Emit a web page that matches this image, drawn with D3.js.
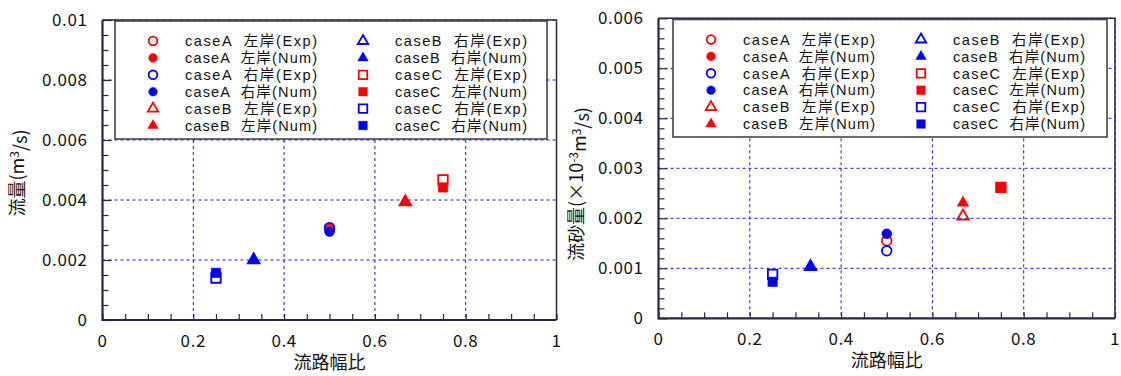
<!DOCTYPE html>
<html>
<head>
<meta charset="utf-8">
<script src="https://cdn.jsdelivr.net/npm/d3@7"></script>
<style>
  body { margin: 0; background: #fff; }
  text { font-family: "Noto Sans CJK JP", "Noto Sans", sans-serif; fill: #111; }
  text.legtext { font-family: "Liberation Sans", "Noto Sans CJK JP", sans-serif; white-space: pre; }
</style>
</head>
<body>
<script>
// series labels, in legend / drawing order
var seriesNames = [
    "caseA 左岸(Exp)", "caseA 左岸(Num)", "caseA 右岸(Exp)", "caseA 右岸(Num)",
    "caseB 左岸(Exp)", "caseB 左岸(Num)", "caseB 右岸(Exp)", "caseB 右岸(Num)",
    "caseC 左岸(Exp)", "caseC 左岸(Num)", "caseC 右岸(Exp)", "caseC 右岸(Num)"
];
var seriesColors = ["red", "red", "blue", "blue", "red", "red", "blue", "blue", "red", "red", "blue", "blue"];
var seriesShapes = ["circle", "circle", "circle", "circle", "triangle", "triangle", "triangle", "triangle", "square", "square", "square", "square"];
var seriesFilled = [false, true, false, true, false, true, false, true, false, true, false, true];

// 流路幅比 of each series
var widthRatio = [0.5, 0.5, 0.5, 0.5, 0.667, 0.667, 0.333, 0.333, 0.75, 0.75, 0.25, 0.25];
// 流量 (m3/s)
var flowValues = [0.00302, 0.00298, 0.00308, 0.00294, 0.00393, 0.00393, 0.0020, 0.0020, 0.00467, 0.00442, 0.0014, 0.00157];
// 流砂量
var sedimentValues = [0.00155, 0.00169, 0.00135, 0.00169, 0.00204, 0.00231, 0.00103, 0.00103, 0.00262, 0.00262, 0.00088, 0.00073];

// tick labels
var xTicks = [0, 0.2, 0.4, 0.6, 0.8, 1];
var xTickLabels = ["0", "0.2", "0.4", "0.6", "0.8", "1"];
var flowTicks = [0, 0.002, 0.004, 0.006, 0.008, 0.01];
var flowTickLabels = ["0", "0.002", "0.004", "0.006", "0.008", "0.01"];
var sedTicks = [0, 0.001, 0.002, 0.003, 0.004, 0.005, 0.006];
var sedTickLabels = ["0", "0.001", "0.002", "0.003", "0.004", "0.005", "0.006"];

var svg = d3.select("body").append("svg")
    .attr("width", 1121)
    .attr("height", 376);

var gridColor = "#1a1ae0";
var axisColor = "#26264a";

function marker(shape, legend){
    var s = legend ? 0.9 : 1;
    if (shape == "circle") return d3.symbol(d3.symbolCircle, 72 * s * s)();
    if (shape == "square") return d3.symbol(d3.symbolSquare, 90 * s * s)();
    return d3.symbol(d3.symbolTriangle, 58 * s * s)();
}

function drawMarks(g, xs, ys, values, legend){
    g.selectAll("path.mark")
        .data(values)
        .enter()
        .append("path")
        .attr("class", "mark")
        .attr("transform", function(d, i){ return "translate(" + xs(i) + "," + ys(d, i) + ")"; })
        .attr("d", function(d, i){ return marker(seriesShapes[i], legend); })
        .attr("fill", function(d, i){ return seriesFilled[i] ? seriesColors[i] : "none"; })
        .attr("stroke", function(d, i){ return seriesColors[i]; })
        .attr("stroke-width", function(d, i){ return seriesFilled[i] ? 0.5 : 1.8; });
}

function drawChart(cfg){
    var g = svg.append("g");
    var x = d3.scaleLinear().domain([0, 1]).range([cfg.left, cfg.right]);
    var y = d3.scaleLinear().domain([0, cfg.yMax]).range([cfg.bottom, cfg.top]);

    // dashed grid
    g.selectAll(".vgrid")
        .data(xTicks.slice(1))
        .enter().append("line")
        .attr("x1", function(d){ return x(d); })
        .attr("x2", function(d){ return x(d); })
        .attr("y1", cfg.top).attr("y2", cfg.bottom)
        .attr("stroke", gridColor).attr("stroke-width", 1)
        .attr("stroke-dasharray", "3,3");
    g.selectAll(".hgrid")
        .data(cfg.yTicks.slice(1))
        .enter().append("line")
        .attr("y1", function(d){ return y(d); })
        .attr("y2", function(d){ return y(d); })
        .attr("x1", cfg.left).attr("x2", cfg.right)
        .attr("stroke", gridColor).attr("stroke-width", 1)
        .attr("stroke-dasharray", "3,3");

    // inner ticks
    var yAxis = d3.axisRight(y)
        .tickValues(d3.range(0, cfg.yMax + 1e-9, cfg.yMinor))
        .tickSize(6)
        .tickFormat("");
    var ya = g.append("g").attr("transform", "translate(" + cfg.left + ",0)").call(yAxis);
    ya.selectAll("line").attr("stroke", axisColor).attr("stroke-width", 1.2)
        .attr("x2", function(d){ return Math.abs(d / cfg.yMajor - Math.round(d / cfg.yMajor)) < 1e-6 ? 9 : 6; });
    ya.select(".domain").remove();

    var xAxis = d3.axisTop(x)
        .tickValues(d3.range(0, 1.0001, 0.05))
        .tickSize(6)
        .tickFormat("");
    var xa = g.append("g").attr("transform", "translate(0," + cfg.bottom + ")").call(xAxis);
    xa.selectAll("line").attr("stroke", axisColor).attr("stroke-width", 1.2);
    xa.select(".domain").remove();

    // frame
    g.append("path")
        .attr("d", "M" + cfg.left + "," + cfg.top + "H" + cfg.right + "V" + cfg.bottom)
        .attr("fill", "none").attr("stroke", axisColor).attr("stroke-width", 1.5);
    g.append("path")
        .attr("d", "M" + cfg.left + "," + cfg.top + "V" + cfg.bottom + "H" + cfg.right)
        .attr("fill", "none").attr("stroke", axisColor).attr("stroke-width", 2.2);

    // tick labels
    g.selectAll(".ylab")
        .data(cfg.yTicks)
        .enter().append("text")
        .attr("x", cfg.left - 15)
        .attr("y", function(d){ return y(d); })
        .attr("dy", "0.36em")
        .attr("text-anchor", "end")
        .style("font-size", "17px")
        .style("letter-spacing", "0.6px")
        .text(function(d, i){ return cfg.yTickLabels[i]; });
    g.selectAll(".xlab")
        .data(xTicks)
        .enter().append("text")
        .attr("x", function(d){ return x(d); })
        .attr("y", cfg.bottom + 27)
        .attr("text-anchor", "middle")
        .style("font-size", "17px")
        .style("letter-spacing", "0.6px")
        .text(function(d, i){ return xTickLabels[i]; });

    // axis titles
    g.append("text")
        .attr("x", (cfg.left + cfg.right) / 2)
        .attr("y", cfg.bottom + 49)
        .attr("text-anchor", "middle")
        .style("font-size", "18px")
        .text("流路幅比");
    var yt = g.append("text")
        .attr("transform", "translate(" + cfg.yTitleX + "," + cfg.yTitleY + ") rotate(-90)")
        .attr("text-anchor", "middle")
        .attr("dy", "0.35em")
        .style("font-size", "18px");
    cfg.yTitle.forEach(function(p){
        yt.append("tspan")
            .attr("dy", p.sup ? "-0.45em" : (p.after ? "0.45em" : null))
            .style("font-size", p.sup ? "12px" : null)
            .text(p.t);
    });

    // data points
    drawMarks(g,
        function(i){ return x(widthRatio[i]); },
        function(d){ return y(d); },
        cfg.values, false);

    // legend
    var lg = g.append("g");
    lg.append("rect")
        .attr("x", cfg.legX).attr("y", cfg.legY)
        .attr("width", cfg.legW).attr("height", cfg.legH)
        .attr("fill", "white").attr("stroke", "#444").attr("stroke-width", 1.6);
    var rowY = function(i){ return cfg.legY + 20 + (i % 6) * 16.9; };
    var colX = function(i){ return cfg.legX + (i < 6 ? 38 : 248); };
    drawMarks(lg, colX, function(d, i){ return rowY(i); }, seriesNames, true);
    lg.selectAll(".legtext")
        .data(seriesNames)
        .enter().append("text")
        .attr("class", "legtext")
        .attr("x", function(d, i){ return colX(i) + 32; })
        .attr("y", function(d, i){ return rowY(i); })
        .attr("dy", "0.36em")
        .attr("textLength", 132)
        .attr("lengthAdjust", "spacing")
        .style("font-size", "14.5px")
        .text(function(d){ return d.replace(" ", "  "); });
}

// left: 流量
drawChart({
    left: 102.5, right: 556.5, top: 20, bottom: 320,
    yMax: 0.01, yMinor: 0.0005, yMajor: 0.002,
    yTicks: flowTicks, yTickLabels: flowTickLabels,
    values: flowValues,
    yTitleX: 18, yTitleY: 173,
    yTitle: [{t: "流量(m"}, {t: "3", sup: true}, {t: "/s)", after: true}],
    legX: 115, legY: 21, legW: 432, legH: 118
});

// right: 流砂量
drawChart({
    left: 658.5, right: 1115, top: 18.3, bottom: 318.3,
    yMax: 0.006, yMinor: 0.0002, yMajor: 0.001,
    yTicks: sedTicks, yTickLabels: sedTickLabels,
    values: sedimentValues,
    yTitleX: 577, yTitleY: 184,
    yTitle: [{t: "流砂量(×10"}, {t: "-3", sup: true}, {t: "m", after: true}, {t: "3", sup: true}, {t: "/s)", after: true}],
    legX: 673, legY: 19.5, legW: 434, legH: 117.5
});
</script>
</body>
</html>
